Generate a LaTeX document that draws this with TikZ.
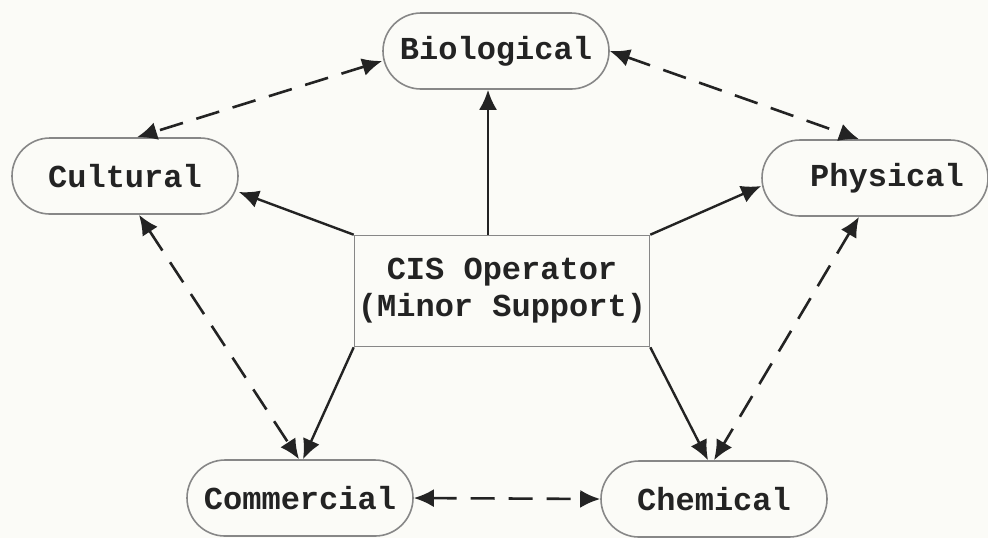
\documentclass[tikz,border=0pt]{standalone}
\usepackage{fontspec}
\setmonofont{Liberation Mono}
\usetikzlibrary{arrows.meta}
\definecolor{paper}{RGB}{251,251,247}
\definecolor{rim}{RGB}{135,135,135}
\definecolor{ink}{RGB}{35,35,35}

\begin{document}
\begin{tikzpicture}[x=0.5pt,y=-0.5pt,
    area/.style={draw=rim,line width=0.8pt,rounded corners=19pt,minimum width=113pt,minimum height=38pt,inner sep=1pt,text=ink,font=\ttfamily\bfseries\fontsize{16}{18.5}\selectfont},
    ops/.style={draw=rim,line width=0.8pt,minimum width=147.5pt,minimum height=55.5pt,inner sep=1pt,align=center,text=ink,font=\ttfamily\bfseries\fontsize{16}{18.5}\selectfont},
    link/.style={ink,line width=1.2pt,-{Latex[length=10pt,width=9pt]}},
    twoway/.style={ink,line width=1.3pt,dash pattern=on 12pt off 7pt,{Latex[length=10pt,width=9pt]}-{Latex[length=10pt,width=9pt]}}]
      \fill[paper] (0,0) rectangle (988,538);
      \useasboundingbox (0,0) rectangle (988,538);
      % the five areas round the operator
\node [area] (bio)  at (496, 51) {Biological};
\node [area] (cult) at (125,176) {Cultural};
\node [area] (phys) at (875,178) {\hspace{12pt}Physical};
\node [area] (comm) at (300,498) {Commercial};
\node [area] (chem) at (714,499) {Chemical};
\node [ops]  (cis)  at (502,291) {CIS Operator\\(Minor Support)};
      % operator to areas
      \draw [link] ([xshift=-7pt]cis.north) -- ([xshift=-4pt]bio.south);
      \draw [link] (cis.north west) -- (cult.-8);
      \draw [link] (cis.north east) -- (phys.184);
      \draw [link] (cis.south west) -- ([xshift=1.5pt]comm.north);
      \draw [link] (cis.south east) -- ([xshift=-3pt]chem.north);
      % areas to one another
      \draw [twoway] (bio.185) -- ([xshift=6pt]cult.north);
      \draw [twoway] (bio.east) -- ([xshift=-8pt]phys.north);
      \draw [twoway] ([xshift=7pt]cult.south) -- ([xshift=-0.5pt]comm.north);
      \draw [twoway] ([xshift=-8pt]phys.south) -- ([xshift=0pt]chem.north);
      \draw [twoway] (comm.east) -- (chem.west);
    \end{tikzpicture}
\end{document}
